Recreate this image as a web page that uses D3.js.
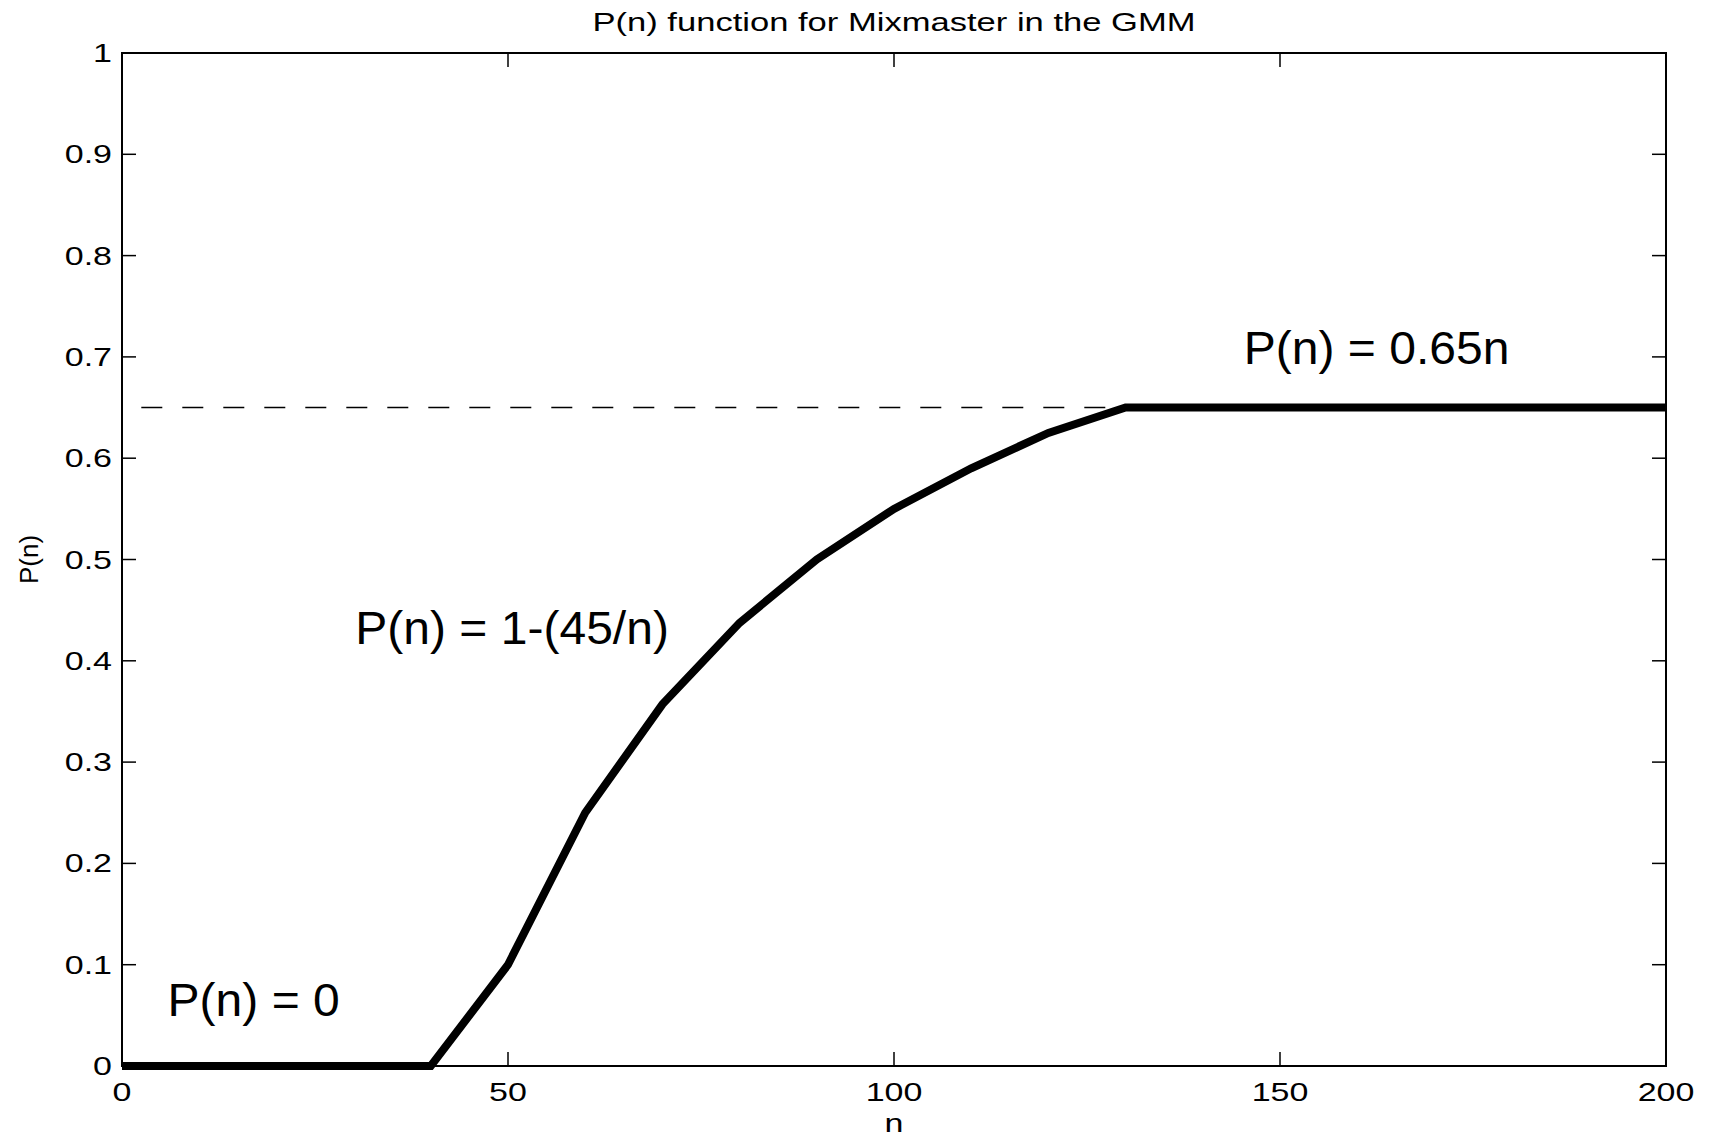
<!DOCTYPE html>
<html>
<head>
<meta charset="utf-8">
<script src="https://cdn.jsdelivr.net/npm/d3@7/dist/d3.min.js"></script>
<style>
  html, body { margin: 0; padding: 0; background: #fff; }
  svg { display: block; font-family: "Liberation Sans", Arial, Helvetica, sans-serif; }
</style>
</head>
<body>
<div id="chart"></div>
<script>
(function () {
  "use strict";

  // curve P(n)
  var nValues = [0, 40, 50, 60, 70, 80, 90, 100, 110, 120, 130, 200];
  var pValues = [0, 0, 0.1, 0.25, 0.357, 0.4375, 0.5, 0.55, 0.59, 0.625, 0.65, 0.65];

  // dashed reference level
  var refN = [2.5, 130];
  var refP = 0.65;

  var xTicks = [0, 50, 100, 150, 200];
  var yTicks = [0, 0.1, 0.2, 0.3, 0.4, 0.5, 0.6, 0.7, 0.8, 0.9, 1];

  var notes = [
    { n: 5.9, p: 0.049, text: "P(n) = 0" },
    { n: 30.2, p: 0.4166, text: "P(n) = 1-(45/n)" },
    { n: 145.3, p: 0.693, text: "P(n) = 0.65n" }
  ];

  var W = 1715, H = 1136;
  var margin = { left: 122, right: 49, top: 53, bottom: 70 };
  var TICK = 14;
  var SMALL = 25, SMALL_SX = 1.36;   // small labels are drawn wide in the source

  var svg = d3.select("#chart").append("svg")
    .attr("width", W).attr("height", H);

  var x = d3.scaleLinear().domain([0, 200]).range([margin.left, W - margin.right]);
  var y = d3.scaleLinear().domain([0, 1]).range([H - margin.bottom, margin.top]);

  var x0 = x.range()[0], x1 = x.range()[1];
  var y0 = y.range()[0], y1 = y.range()[1];

  function wide(sel, px, py, sx) {
    return sel.attr("transform", "translate(" + px + "," + py + ") scale(" + sx + ",1)");
  }

  // title
  wide(svg.append("text"), (x0 + x1) / 2, 31, 1.33)
    .attr("text-anchor", "middle")
    .attr("font-size", 26)
    .text("P(n) function for Mixmaster in the GMM");

  // dashed line
  svg.append("line")
    .attr("x1", x(refN[0])).attr("x2", x(refN[1]))
    .attr("y1", y(refP)).attr("y2", y(refP))
    .attr("stroke", "#000").attr("stroke-width", 1.4)
    .attr("stroke-dasharray", "21,20");

  // ticks, all four sides, pointing inward
  var tg = svg.append("g").attr("stroke", "#000").attr("stroke-width", 1.5);
  xTicks.forEach(function (t) {
    tg.append("line").attr("x1", x(t)).attr("x2", x(t)).attr("y1", y0).attr("y2", y0 - TICK);
    tg.append("line").attr("x1", x(t)).attr("x2", x(t)).attr("y1", y1).attr("y2", y1 + TICK);
  });
  yTicks.forEach(function (t) {
    tg.append("line").attr("x1", x0).attr("x2", x0 + TICK).attr("y1", y(t)).attr("y2", y(t));
    tg.append("line").attr("x1", x1).attr("x2", x1 - TICK).attr("y1", y(t)).attr("y2", y(t));
  });

  // tick labels
  svg.append("g").selectAll("text").data(xTicks).join("text")
    .attr("transform", function (d) {
      return "translate(" + x(d) + "," + (y0 + 35) + ") scale(" + SMALL_SX + ",1)";
    })
    .attr("text-anchor", "middle")
    .attr("font-size", SMALL)
    .text(function (d) { return d; });

  svg.append("g").selectAll("text").data(yTicks).join("text")
    .attr("transform", function (d) {
      return "translate(" + (x0 - 10) + "," + y(d) + ") scale(" + SMALL_SX + ",1)";
    })
    .attr("dy", "0.36em")
    .attr("text-anchor", "end")
    .attr("font-size", SMALL)
    .text(function (d) { return d; });

  // axis labels
  wide(svg.append("text"), (x0 + x1) / 2, 1132, SMALL_SX)
    .attr("text-anchor", "middle")
    .attr("font-size", SMALL)
    .text("n");

  svg.append("text")
    .attr("transform", "translate(38," + ((y0 + y1) / 2) + ") rotate(-90)")
    .attr("text-anchor", "middle")
    .attr("font-size", 26)
    .text("P(n)");

  // frame
  svg.append("rect")
    .attr("x", x0).attr("y", y1)
    .attr("width", x1 - x0).attr("height", y0 - y1)
    .attr("fill", "none").attr("stroke", "#000").attr("stroke-width", 2);

  // the curve
  var pts = nValues.map(function (n, i) { return [n, pValues[i]]; });
  var line = d3.line()
    .x(function (d) { return x(d[0]); })
    .y(function (d) { return y(d[1]); });

  svg.append("path")
    .datum(pts)
    .attr("d", line)
    .attr("fill", "none")
    .attr("stroke", "#000")
    .attr("stroke-width", 8)
    .attr("stroke-linejoin", "miter");

  // annotations
  svg.append("g").selectAll("text").data(notes).join("text")
    .attr("transform", function (d) {
      return "translate(" + x(d.n) + "," + y(d.p) + ") scale(1.045,1)";
    })
    .attr("font-size", 46)
    .text(function (d) { return d.text; });
})();
</script>
</body>
</html>
